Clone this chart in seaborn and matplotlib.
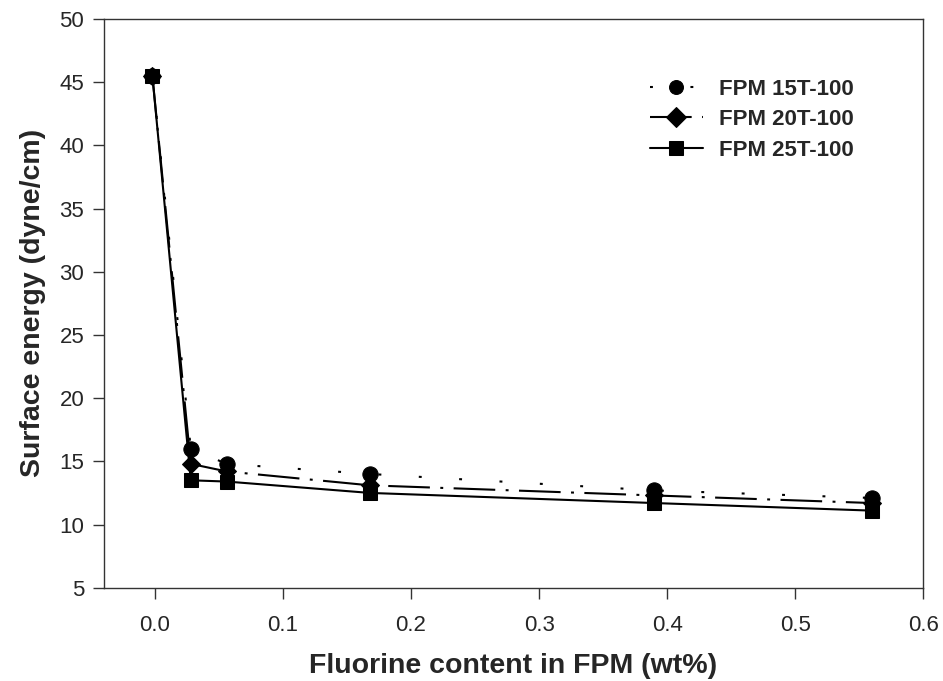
import pandas as pd
import numpy as np
import matplotlib
matplotlib.use('Agg')
import matplotlib.pyplot as plt
import seaborn as sns

# fluorine content (wt%) and surface energy (dyne/cm)
fluorine = [-0.002, 0.028, 0.056, 0.168, 0.39, 0.56]
fpm_15t = [45.5, 16.0, 14.8, 14.0, 12.7, 12.1]
fpm_20t = [45.5, 14.8, 14.2, 13.1, 12.3, 11.7]
fpm_25t = [45.5, 13.5, 13.4, 12.5, 11.7, 11.1]
series = ['FPM 15T-100', 'FPM 20T-100', 'FPM 25T-100']

df = pd.concat([
    pd.DataFrame({'x': fluorine, 'y': fpm_15t, 'sample': series[0]}),
    pd.DataFrame({'x': fluorine, 'y': fpm_20t, 'sample': series[1]}),
    pd.DataFrame({'x': fluorine, 'y': fpm_25t, 'sample': series[2]}),
])

sns.set_style('ticks')
plt.rcParams['font.family'] = ['Liberation Sans', 'DejaVu Sans']

fig = plt.figure(figsize=(9.43, 6.81), dpi=100)
ax = fig.add_axes([0.110, 0.137, 0.869, 0.835])

sns.lineplot(data=df, x='x', y='y', style='sample', hue='sample',
             palette=['black'] * 3,
             markers={series[0]: 'o', series[1]: 'D', series[2]: 's'},
             dashes={series[0]: (1.4, 18), series[1]: (20, 5, 1.4, 5), series[2]: ''},
             markersize=10, markeredgecolor='black', linewidth=1.5, ax=ax)

for line, ms in zip(ax.lines[:3], [11, 9, 9.5]):
    line.set_markersize(ms)

ax.set_xlim(-0.04, 0.6)
ax.set_ylim(5, 50)
ax.set_xticks(np.arange(0, 0.61, 0.1))
ax.set_xticklabels(['0.0', '0.1', '0.2', '0.3', '0.4', '0.5', '0.6'])
ax.set_yticks(range(5, 51, 5))
ax.tick_params(labelsize=16, length=8, width=1, direction='out', color='#333333')
ax.tick_params(axis='x', pad=12)
ax.tick_params(axis='y', pad=6)
for s in ax.spines.values():
    s.set_linewidth(1)
    s.set_color('#333333')

ax.set_xlabel('Fluorine content in FPM (wt%)', fontsize=20.5, fontweight='bold', labelpad=12)
ax.set_ylabel('Surface energy (dyne/cm)', fontsize=20.5, fontweight='bold', labelpad=10)

leg = ax.legend(loc='upper left', bbox_to_anchor=(0.642, 0.93), frameon=False,
                prop={'size': 16, 'weight': 'bold'}, handlelength=2.4,
                handletextpad=0.7, labelspacing=0.42)
for h in leg.legend_handles:
    h.set_color('black')

fig.savefig('out.png', dpi=100)
